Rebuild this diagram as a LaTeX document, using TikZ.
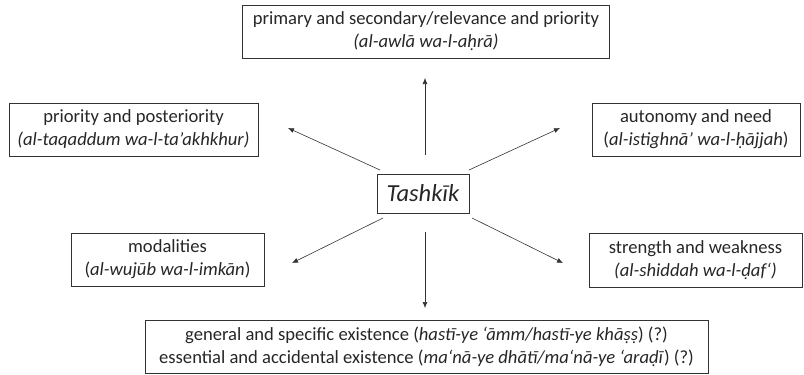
\documentclass[tikz,border=0pt]{standalone}
\usepackage{fontspec}
\setmainfont{Carlito}
\usetikzlibrary{arrows.meta}
\begin{document}
\begin{tikzpicture}[x=1pt,y=-1pt,
  box/.style={draw=black!80,line width=0.9pt,inner sep=0pt,align=center,
    font=\fontsize{18.6}{23}\selectfont,text=black!85},
  arr/.style={draw=black!80,line width=0.6pt,-{Latex[length=6pt,width=5pt]}}]
\useasboundingbox (0,0) rectangle (804,375);
% central concept
\node[box,minimum width=92pt,minimum height=39pt,font=\fontsize{24.5}{27}\selectfont\itshape]
  (c) at (423,193.5) {Tashkīk};
% surrounding boxes
\node[box,minimum width=367pt,minimum height=53pt] (top) at (426,31.5)
  {primary and secondary/relevance and priority\\\textit{(al-awlā wa-l-aḥrā)}};
\node[box,minimum width=249pt,minimum height=53pt] (ul) at (133.5,129.5)
  {priority and posteriority\\\textit{(al-taqaddum wa-l-ta’akhkhur)}};
\node[box,minimum width=208pt,minimum height=53pt] (ur) at (696,129.5)
  {autonomy and need\\(\textit{al-istighnā’ wa-l-ḥājjah})};
\node[box,minimum width=193pt,minimum height=53pt] (ll) at (167.5,259.5)
  {modalities\\(\textit{al-wujūb wa-l-imkān})};
\node[box,minimum width=213pt,minimum height=54pt] (lr) at (695.5,260)
  {strength and weakness\\\textit{(al-shiddah wa-l-ḍaf‘)}};
\node[box,minimum width=563pt,minimum height=53pt] (bot) at (426.5,346.5)
  {general and specific existence (\textit{hastī-ye ‘āmm/hastī-ye khāṣṣ}) (?)\\
   essential and accidental existence (\textit{ma‘nā-ye dhātī/ma‘nā-ye ‘araḍī}) (?)};
% arrow end points, kept clear of the boxes
\coordinate (sT) at (425,155);  \coordinate (eT) at (425,78);
\coordinate (sUL) at (380,170); \coordinate (eUL) at (288,128);
\coordinate (sUR) at (469,170); \coordinate (eUR) at (560,128);
\coordinate (sLL) at (383,218); \coordinate (eLL) at (292,263);
\coordinate (sLR) at (472,218); \coordinate (eLR) at (563,263);
\coordinate (sB) at (425,232);  \coordinate (eB) at (425,308);
\draw[arr] (sT) -- (eT);
\draw[arr] (sUL) -- (eUL);
\draw[arr] (sUR) -- (eUR);
\draw[arr] (sLL) -- (eLL);
\draw[arr] (sLR) -- (eLR);
\draw[arr] (sB) -- (eB);
\end{tikzpicture}
\end{document}
